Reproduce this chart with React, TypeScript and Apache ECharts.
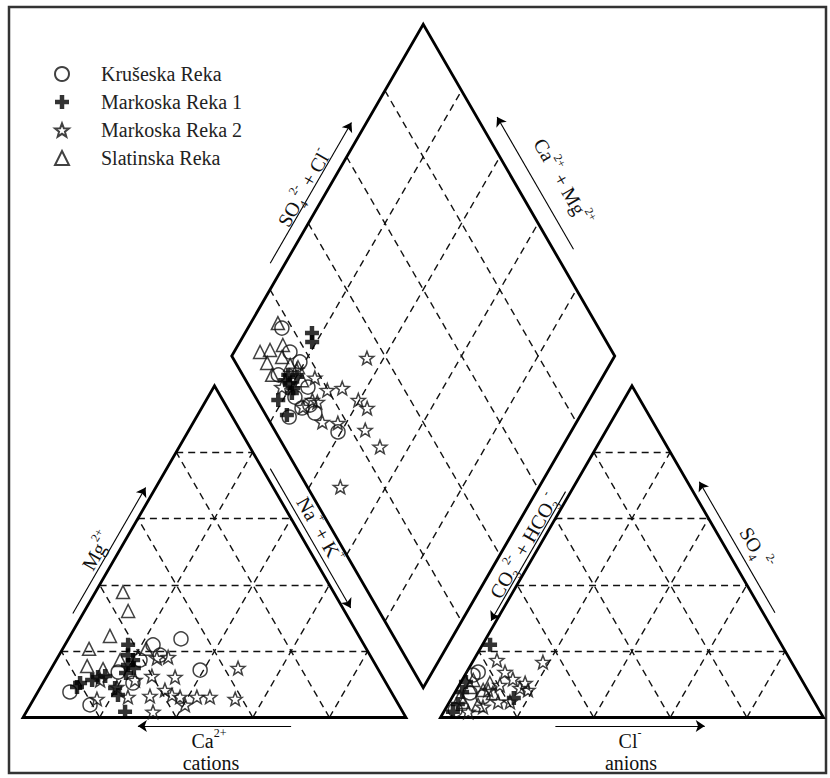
import React, { useEffect, useRef } from "react";
import * as echarts from "echarts";

// ---------- data (percent of meq) ----------
const SERIES_NAMES = ["Krušeska Reka", "Markoska Reka 1", "Markoska Reka 2", "Slatinska Reka"];

// Cation triangle points: [Ca2+ %, Mg2+ %]  (Na+ + K+ = 100 - Ca - Mg)
const krusCations = [[46.9, 23.7], [46.6, 14.3], [55.1, 21.9], [54.8, 18.8], [60.8, 17.3], [83.9, 7.7], [80.6, 3.8], [66.1, 10.4], [68.3, 13.7]];
const mark1Cations = [[61.6, 21.9], [63.2, 18.8], [64.7, 15.8], [66.4, 13.4], [63.6, 14.9], [79.9, 10.4], [76.3, 11.3], [74.3, 12.2], [81.3, 9.2], [71.8, 6.8], [72.5, 1.7], [71.5, 8.9], [62.6, 17.3], [72.3, 12.5]];
const mark2Cations = [[56.1, 17.9], [53.0, 18.2], [36.4, 14.9], [54.2, 12.2], [60.1, 12.5], [65.1, 11.3], [70.9, 9.2], [58.8, 8.3], [57.7, 6.8], [55.9, 6.2], [51.5, 6.2], [48.1, 6.2], [55.8, 3.8], [41.8, 5.6], [63.6, 6.5], [69.5, 6.2], [65.2, 1.7], [77.9, 5.6], [74.2, 11.3]];
const slatCations = [[55.0, 37.8], [56.5, 32.1], [65.0, 24.6], [72.4, 20.7], [75.5, 15.5], [71.8, 14.6], [66.0, 17.3], [57.5, 20.7]];

// Anion triangle points: [SO4 2- %, Cl- %]  (CO3 + HCO3 = rest)
const krusAnions = [[13.7, 3.0], [12.8, 2.1], [2.3, 2.7], [7.4, 4.0], [6.2, 8.0]];
const mark1Anions = [[21.9, 2.0], [5.9, 16.2], [4.1, 2.5], [7.7, 1.8], [10.7, 1.3], [1.7, 2.4]];
const mark2Anions = [[17.3, 6.1], [13.7, 10.0], [11.6, 13.1], [10.4, 16.9], [8.3, 18.7], [8.9, 16.3], [4.7, 12.7], [4.7, 15.8], [1.7, 6.4], [16.7, 18.4], [3.2, 9.5], [8.3, 8.3], [9.8, 10.6]];
const slatAnions = [[11.3, 2.9], [9.2, 3.1], [8.3, 7.0], [7.4, 10.0], [4.7, 3.6], [3.8, 7.9], [6.2, 2.0], [10.4, 7.7]];

// Diamond points: [Na+ + K+ %, SO4 2- + Cl- %]
const krusDiamond = [[8.9, 17.3], [14.6, 15.8], [18.7, 16.9], [15.0, 9.3], [24.6, 15.2], [30.3, 13.1], [24.2, 5.8], [39.2, 16.3], [26.2, 10.5], [22.7, 10.3], [27.8, 13.0]];
const mark1Diamond = [[17.5, 24.4], [18.9, 23.1], [19.3, 11.1], [21.3, 10.1], [18.8, 5.5], [23.3, 5.5], [20.9, 11.2], [17.6, 11.9], [20.2, 13.9], [17.6, 10.3]];
const mark2Diamond = [[35.6, 35.0], [25.0, 18.4], [30.1, 19.8], [33.7, 24.0], [39.7, 26.4], [43.2, 27.5], [33.6, 13.7], [37.8, 17.6], [46.0, 23.7], [52.4, 25.0], [48.1, 8.6], [27.7, 14.4], [26.3, 10.9], [29.3, 15.4], [19.1, 14.9], [17.8, 8.4]];
const slatDiamond = [[7.1, 17.0], [6.8, 8.0], [9.1, 10.9], [11.7, 15.0], [10.3, 8.2], [13.3, 13.0], [13.4, 7.7], [16.6, 13.9], [22.0, 14.7], [19.0, 15.6]];

const GRID_STEPS = [20, 40, 60, 80];

// ---------- geometry ----------
const S = 100; // triangle side
const G = 9; // gap between triangles
const SQ3 = Math.sqrt(3);
const H = (S * SQ3) / 2;
const AX = S + G; // x offset of anion triangle

const cationXY = (ca: number, mg: number) => {
  const nak = 100 - ca - mg;
  return [nak + mg / 2, (mg * H) / 100];
};
const anionXY = (so4: number, cl: number) => [AX + cl + so4 / 2, (so4 * H) / 100];
const diamondXY = (nak: number, clso4: number) => {
  const t = S + G + clso4 - nak;
  return [nak + t / 2, (t * SQ3) / 2];
};

// pixel mapping (chart covers the full 830x778 page)
const W = 830, HT = 778;
const PXU = 3.83, OX = 23, OY = 717.5;
const X_MIN = -OX / PXU, X_MAX = (W - OX) / PXU;
const Y_MIN = (OY - HT) / PXU, Y_MAX = OY / PXU;

const FONT = "Liberation Serif";

const STAR =
  "path://M50 0 L62.34 33.01 L97.55 34.55 L69.97 56.49 L79.39 90.45 L50 71 L20.61 90.45 L30.03 56.49 L2.45 34.55 L37.66 33.01 Z";
const PLUS = "path://M34 0 H66 V34 H100 V66 H66 V100 H34 V66 H0 V34 H34 Z";

function edgeLine(p0: number[], p1: number[], f0: number, f1: number, off: number) {
  const dx = p1[0] - p0[0], dy = p1[1] - p0[1];
  const len = Math.hypot(dx, dy);
  const nx = dy / len, ny = -dx / len;
  return [
    [p0[0] + dx * f0 + nx * off, p0[1] + dy * f0 + ny * off],
    [p0[0] + dx * f1 + nx * off, p0[1] + dy * f1 + ny * off],
  ];
}

export default function App() {
  const ref = useRef<HTMLDivElement>(null);
  useEffect(() => {
    if (!ref.current) return;
    const chart = echarts.init(ref.current, null, { renderer: "svg" });

    const cA = [0, 0], cB = [S, 0], cC = [S / 2, H];
    const aA = [AX, 0], aB = [AX + S, 0], aC = [AX + S / 2, H];
    const dL = diamondXY(0, 0), dB = diamondXY(100, 0), dR = diamondXY(100, 100), dT = diamondXY(0, 100);

    const outlines = [
      { coords: [cA, cB, cC, cA, cB] },
      { coords: [aA, aB, aC, aA, aB] },
      { coords: [dB, dR, dT, dL, dB, dR] },
    ];

    const dashed: any[] = [];
    GRID_STEPS.forEach((k) => {
      // cation triangle
      dashed.push({ coords: [cationXY(100 - k, k), cationXY(0, k)] });
      dashed.push({ coords: [cationXY(100 - k, 0), cationXY(0, 100 - k)] });
      dashed.push({ coords: [cationXY(k, 0), cationXY(k, 100 - k)] });
      // anion triangle
      dashed.push({ coords: [anionXY(k, 0), anionXY(k, 100 - k)] });
      dashed.push({ coords: [anionXY(0, k), anionXY(100 - k, k)] });
      dashed.push({ coords: [anionXY(0, 100 - k), anionXY(100 - k, 0)] });
      // diamond
      dashed.push({ coords: [diamondXY(k, 0), diamondXY(k, 100)] });
      dashed.push({ coords: [diamondXY(0, k), diamondXY(100, k)] });
    });

    const arrows = [
      edgeLine(cA, cC, 0.3, 0.68, -2.3), // Mg
      edgeLine(cC, cB, 0.26, 0.68, -1.8), // Na+K
      edgeLine(cB, cA, 0.3, 0.7, -2.2), // Ca
      edgeLine(aA, aB, 0.3, 0.69, 2.2), // Cl
      edgeLine(aC, aA, 0.326, 0.715, 1.2), // CO3+HCO3
      edgeLine(aB, aC, 0.3, 0.695, 2.7), // SO4
      edgeLine(dL, dT, 0.26, 0.684, -3.4), // SO4+Cl
      edgeLine(dR, dT, 0.295, 0.694, 4.6), // Ca+Mg
    ].map((c) => ({ coords: c }));

    const groups = [
      { name: SERIES_NAMES[0], cat: krusCations, an: krusAnions, dia: krusDiamond, symbol: "circle", size: 14, filled: false },
      { name: SERIES_NAMES[1], cat: mark1Cations, an: mark1Anions, dia: mark1Diamond, symbol: PLUS, size: 14, filled: true },
      { name: SERIES_NAMES[2], cat: mark2Cations, an: mark2Anions, dia: mark2Diamond, symbol: STAR, size: 14, filled: false },
      { name: SERIES_NAMES[3], cat: slatCations, an: slatAnions, dia: slatDiamond, symbol: "triangle", size: 13, filled: false },
    ];

    const scatter = groups.map((g) => ({
      type: "scatter",
      name: g.name,
      symbol: g.symbol,
      symbolSize: g.size,
      symbolKeepAspect: true,
      z: 5,
      silent: true,
      itemStyle: g.filled
        ? { color: "#000", borderWidth: 0 }
        : { color: "rgba(255,255,255,0)", borderColor: "#111", borderWidth: 1.5 },
      data: [
        ...g.cat.map((p) => cationXY(p[0], p[1])),
        ...g.an.map((p) => anionXY(p[0], p[1])),
        ...g.dia.map((p) => diamondXY(p[0], p[1])),
      ],
    }));

    const rich = {
      b: { fontSize: 20, lineHeight: 28, fontFamily: FONT, fill: "#111" },
      p: { fontSize: 12, lineHeight: 12, verticalAlign: "top", fontFamily: FONT, fill: "#111" },
      s: { fontSize: 12, lineHeight: 12, verticalAlign: "bottom", fontFamily: FONT, fill: "#111" },
    };
    const label = (text: string, x: number, y: number, deg: number) => ({
      type: "text",
      x,
      y,
      rotation: (deg * Math.PI) / 180,
      silent: true,
      z: 10,
      style: { text, rich, align: "center", verticalAlign: "middle", fontFamily: FONT, fontSize: 20, fill: "#111" },
    });

    chart.setOption({
      animation: false,
      backgroundColor: "#fff",
      grid: { left: 0, right: 0, top: 0, bottom: 0 },
      xAxis: { type: "value", min: X_MIN, max: X_MAX, show: false },
      yAxis: { type: "value", min: Y_MIN, max: Y_MAX, show: false },
      legend: {
        orient: "vertical",
        left: 49,
        top: 59,
        itemWidth: 14,
        itemHeight: 14,
        itemGap: 8,
        selectedMode: false,
        data: SERIES_NAMES,
        textStyle: { fontFamily: FONT, fontSize: 20, lineHeight: 20, color: "#222", padding: [0, 0, 0, 27] },
      },
      graphic: [
        { type: "rect", silent: true, shape: { x: 9, y: 7, width: 817, height: 766 }, style: { fill: "none", stroke: "#333", lineWidth: 2.5 } },
        label("{b|Mg}{p|2+}", 97, 551, 60),
        label("{b|Na}{p|+}{b| + K}{p|+}", 320, 530, -60),
        label("{b|Ca}{p|2+}", 209, 741, 0),
        label("{b|cations}", 211, 763, 0),
        label("{b|Cl}{p|-}", 630, 741, 0),
        label("{b|anions}", 631, 763, 0),
        label("{b|CO}{s|3}{p|2-}{b| + HCO}{s|3}{p|-}", 524, 546, 60),
        label("{b|SO}{s|4}{p| 2-}", 756, 548, -60),
        label("{b|SO}{s|4}{p|2-}{b| + Cl}{p|-}", 304, 188, 60),
        label("{b|Ca}{p|2+}{b| + Mg}{p|2+}", 563, 182, -60),
      ],
      series: [
        {
          type: "lines",
          coordinateSystem: "cartesian2d",
          polyline: true,
          silent: true,
          z: 3,
          lineStyle: { color: "#000", width: 2.8, type: "solid", opacity: 1 },
          data: outlines,
        },
        {
          type: "lines",
          coordinateSystem: "cartesian2d",
          silent: true,
          z: 2,
          lineStyle: { color: "#111", width: 1.4, type: [7, 5], opacity: 1 },
          data: dashed,
        },
        {
          type: "lines",
          coordinateSystem: "cartesian2d",
          silent: true,
          z: 3,
          symbol: ["none", "arrow"],
          symbolSize: 9,
          lineStyle: { color: "#000", width: 1.1, opacity: 1 },
          data: arrows,
        },
        ...scatter,
      ],
    } as any);
    return () => chart.dispose();
  }, []);
  return <div ref={ref} style={{ position: "absolute", left: 0, top: 0, width: W, height: HT }} />;
}
